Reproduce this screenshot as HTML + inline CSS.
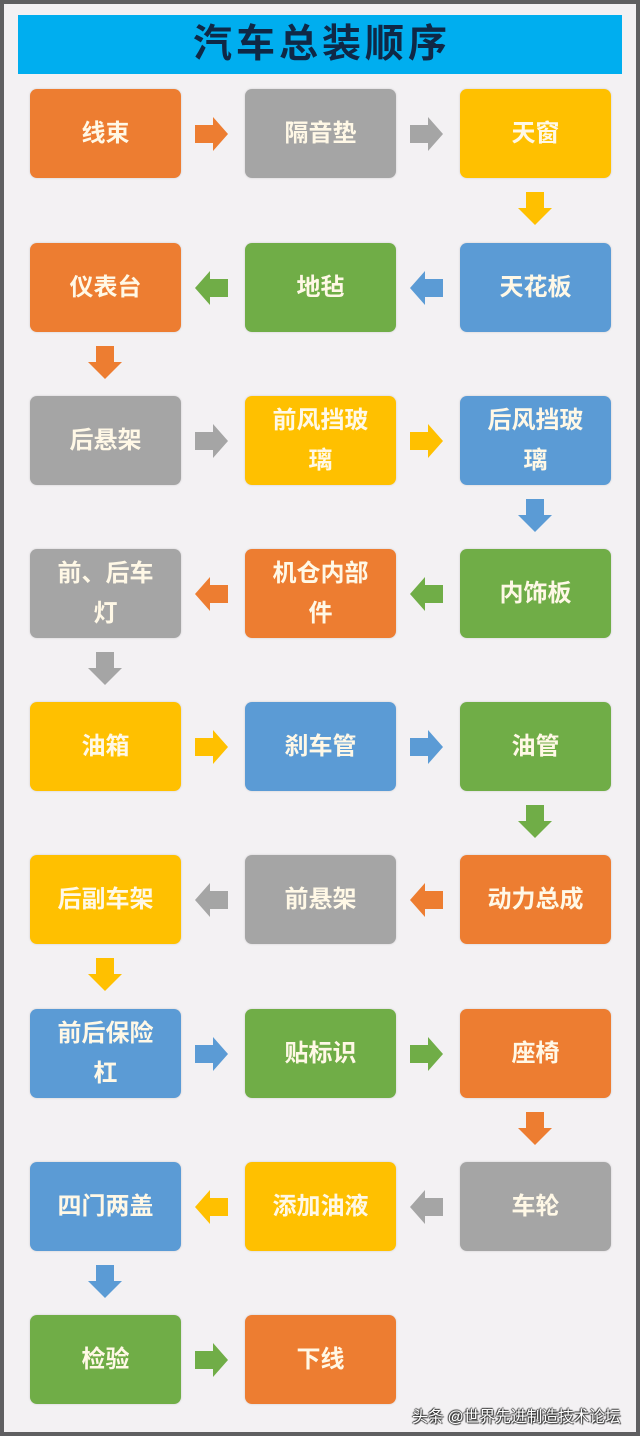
<!DOCTYPE html>
<html><head><meta charset="utf-8"><style>
html,body{margin:0;padding:0}
body{width:640px;height:1436px;position:relative;background:#5f5f61;overflow:hidden;font-family:"Liberation Sans","Noto Sans CJK SC",sans-serif}
#pg{position:absolute;left:4px;top:4px;width:632px;height:1428px;background:#f3f1f3}
#title{position:absolute;left:18px;top:15px;width:604px;height:59px;background:#00aeef;color:#0f2846;font-size:39px;font-weight:bold;text-align:center;line-height:59px;letter-spacing:4px;text-indent:4px}
.b{position:absolute;width:151px;height:89px;border-radius:7px;color:#fff8e6;font-size:24px;font-weight:bold;display:flex;align-items:center;justify-content:center;text-align:center;box-sizing:border-box;padding:0 20px;line-height:40px;box-shadow:0 0 2px rgba(0,0,0,.15)}
.O{background:#ed7d31}.G{background:#a5a5a5}.Y{background:#ffc000}.B{background:#5b9bd5}.N{background:#70ad47}
svg{position:absolute}
#wm{position:absolute;left:412px;top:1403px;font-size:16px;letter-spacing:-0.3px;color:#fff;text-shadow:1px 1px 1px #222,-1px 0 1px #222,0 -1px 1px #333;white-space:nowrap}
</style></head><body>
<div id="pg"></div>
<div id="title">汽车总装顺序</div>
<div id="c"></div>
<div id="wm">头条 @世界先进制造技术论坛</div>
<script>
var X=[30,245,460],T=[89,243,396,549,702,855,1009,1162,1315];
var C={O:'#ed7d31',G:'#a5a5a5',Y:'#ffc000',B:'#5b9bd5',N:'#70ad47'};
var rows=[
[['线束','O'],['隔音垫','G'],['天窗','Y']],
[['仪表台','O'],['地毡','N'],['天花板','B']],
[['后悬架','G'],['前风挡玻璃','Y'],['后风挡玻璃','B']],
[['前、后车灯','G'],['机仓内部件','O'],['内饰板','N']],
[['油箱','Y'],['刹车管','B'],['油管','N']],
[['后副车架','Y'],['前悬架','G'],['动力总成','O']],
[['前后保险杠','B'],['贴标识','N'],['座椅','O']],
[['四门两盖','B'],['添加油液','Y'],['车轮','G']],
[['检验','N'],['下线','O']]];
var h='';
function arrR(x,y,c){return '<svg style="left:'+x+'px;top:'+(y-17)+'px" width="34" height="34"><polygon points="0,8 18,8 18,0 33,17 18,34 18,26 0,26" fill="'+c+'"/></svg>';}
function arrL(x,y,c){return '<svg style="left:'+x+'px;top:'+(y-17)+'px" width="34" height="34"><polygon points="34,8 16,8 16,0 1,17 16,34 16,26 34,26" fill="'+c+'"/></svg>';}
function arrD(cx,y,c){return '<svg style="left:'+(cx-17)+'px;top:'+y+'px" width="34" height="34"><polygon points="8,0 26,0 26,16 34,16 17,33 0,16 8,16" fill="'+c+'"/></svg>';}
rows.forEach(function(r,i){
 r.forEach(function(b,j){h+='<div class="b '+b[1]+'" style="left:'+X[j]+'px;top:'+T[i]+'px">'+b[0]+'</div>';});
 var cy=T[i]+44.5, ltr=(i%2==0);
 for(var j=0;j<r.length-1;j++){
  if(ltr) h+=arrR(X[j]+165,cy,C[r[j][1]]);
  else h+=arrL(X[j]+164,cy,C[r[j+1][1]]);
 }
 if(i<8){var col=ltr?2:0;h+=arrD(X[col]+75,T[i]+103,C[r[col][1]]);}
});
document.getElementById('c').innerHTML=h;
</script>
</body></html>
